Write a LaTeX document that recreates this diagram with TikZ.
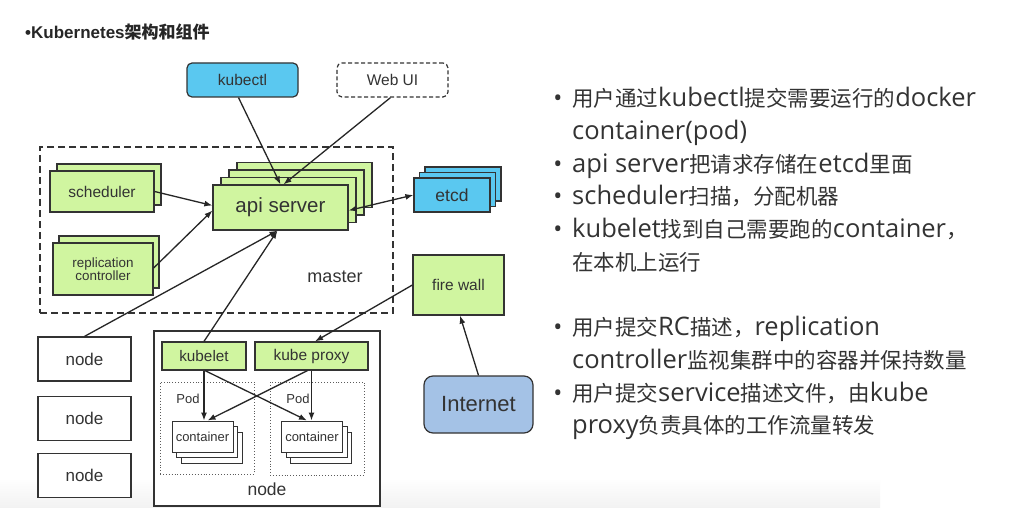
\documentclass[tikz,border=0pt]{standalone}
\usepackage{fontspec}
\setmainfont{Liberation Sans}
\newfontfamily\cjk{Noto Sans CJK SC}
\newfontfamily\notefont{Open Sans}
\usepackage{tikz}
\usetikzlibrary{arrows.meta}
\definecolor{boxgreen}{HTML}{D0F5A0}
\definecolor{boxblue}{HTML}{5AC8F0}
\definecolor{netblue}{HTML}{A4C2E6}
\definecolor{inkgray}{HTML}{333333}
\newcommand{\pxsize}[1]{\fontsize{#1}{#1}\selectfont}
\newcommand{\zh}[1]{{\cjk\pxsize{21.5}#1}}
\tikzset{box/.style={draw=inkgray,line width=1.2pt,inner sep=0pt,text=inkgray,align=center},
	greenbox/.style={box,fill=boxgreen},
	bluebox/.style={box,fill=boxblue},
	whitebox/.style={box,fill=white},
	podbox/.style={draw=inkgray!80,dotted,line width=0.9pt,inner sep=0pt},
	conbox/.style={box,fill=white,line width=1pt,minimum width=61pt,minimum height=31pt},
	label/.style={inner sep=0pt,text=inkgray},
	note/.style={inner sep=0pt,anchor=base west,text=inkgray,font=\notefont\pxsize{25.5}},
	dot/.style={inner sep=0pt,anchor=base,text=inkgray,font=\notefont\pxsize{24}}}

\begin{document}
\begin{tikzpicture}[x=1pt,y=-1pt]
	\useasboundingbox[fill=white] (0,0) rectangle (1020,516);
	\shade[top color=white,bottom color=black!5] (0,478) rectangle (880,507);
	\node[label,anchor=base west,text=black!85] (title) at (25,39)
		{\pxsize{17}\bfseries •Kubernetes{\cjk 架构和组件}};
	% master
	\node[draw=inkgray,line width=1.2pt,dash pattern=on 7pt off 4pt,
		minimum width=353pt,minimum height=166pt] (master) at (216.5,230) {};
	\node[label,font=\pxsize{18}] (masterlabel) at (335,277) {master};
	\begin{scope}[every node/.style={greenbox}]
		\node[minimum width=104pt,minimum height=41pt] (sched1) at (109,184.5) {};
		\node[minimum width=104pt,minimum height=41pt,font=\pxsize{15.5}] (sched) at (102,191.5) {scheduler};
		\node[minimum width=100pt,minimum height=52pt] (repl1) at (109,262) {};
		\node[minimum width=100pt,minimum height=52pt,font=\pxsize{13.4}] (repl) at (103,269)
			{replication\\controller};
		\node[minimum width=135pt,minimum height=45pt] (api3) at (304.5,185) {};
		\node[minimum width=135pt,minimum height=45pt] (api2) at (296.5,192.5) {};
		\node[minimum width=135pt,minimum height=45pt] (api1) at (288.5,200) {};
		\node[minimum width=135pt,minimum height=45pt,font=\pxsize{20.5}] (api) at (280.5,207.5) {api server};
		\node[minimum width=91pt,minimum height=60pt,font=\pxsize{15.5}] (firewall) at (458.5,285) {fire wall};
		\node[minimum width=84pt,minimum height=28pt,font=\pxsize{15.3}] (kubelet) at (204,356) {kubelet};
		\node[minimum width=113pt,minimum height=28pt,font=\pxsize{15.5}] (kubeproxy) at (311.5,356) {kube proxy};
	\end{scope}
	\begin{scope}[every node/.style={bluebox,minimum width=76pt,minimum height=34pt}]
		\node (etcd2) at (463,184) {};
		\node (etcd1) at (457.5,189.5) {};
		\node[font=\pxsize{17.5}] (etcd) at (452,195) {etcd};
		\node[rounded corners=5pt,minimum width=111pt,font=\pxsize{15.5}] (kubectl) at (242.5,80) {kubectl};
	\end{scope}
	\node[whitebox,rounded corners=5pt,dash pattern=on 4pt off 2.5pt,
		minimum width=111pt,minimum height=34pt,font=\pxsize{15.5}] (webui) at (392.5,80) {Web UI};
	\node[box,fill=netblue,rounded corners=9pt,minimum width=109pt,minimum height=57pt,
		font=\pxsize{22}] (internet) at (478.5,404.5) {Internet};
	% nodes
	\begin{scope}[every node/.style={whitebox,minimum width=93pt,minimum height=44pt,font=\pxsize{17}}]
		\node (node1) at (84.5,359) {node};
		\node (node2) at (84.5,418.5) {node};
		\node (node3) at (84.5,475.5) {node};
	\end{scope}
	\node[whitebox,minimum width=226pt,minimum height=175pt] (worker) at (267,418.5) {};
	\node[label,font=\pxsize{17.5}] (workerlabel) at (267,489) {node};
	\node[greenbox,minimum width=84pt,minimum height=28pt,font=\pxsize{15.3}] at (kubelet) {kubelet};
	\node[greenbox,minimum width=113pt,minimum height=28pt,font=\pxsize{15.5}] at (kubeproxy) {kube proxy};
	\node[podbox,minimum width=94pt,minimum height=92pt] (pod1) at (207,428) {};
	\node[podbox,minimum width=94pt,minimum height=93pt] (pod2) at (317,428.5) {};
	\node[label,font=\pxsize{13}] (podlabel1) at (188,399) {Pod};
	\node[label,font=\pxsize{13}] (podlabel2) at (298,399) {Pod};
	\begin{scope}[every node/.style={conbox,font=\pxsize{13}}]
		\node (cont1b) at (211.5,447.5) {};
		\node (cont1a) at (207,442) {};
		\node (cont1) at (202.5,436.5) {container};
		\node (cont2b) at (321,447.5) {};
		\node (cont2a) at (316.5,442) {};
		\node (cont2) at (312,436.5) {container};
	\end{scope}
	% connectors
	\begin{scope}[>={Latex[length=8pt,width=6pt]},
		every edge/.style={draw=black!85,line width=1.3pt}]
		\path [->] ([xshift=-4pt]kubectl.south) edge (api.north);
		\path [->] ([xshift=-2pt]webui.south) edge ([xshift=3pt]api.north);
		\path [->] (sched.east) edge ([yshift=2pt]api.west);
		\path [->] ([yshift=1pt]repl.east) edge ([yshift=-3pt]api.west);
		\path [->] (node1.north) edge ([xshift=-3pt]api.south);
		\path [->] (kubelet.north) edge ([xshift=-3pt]api.south);
		\path [<->] ([yshift=-3pt]api.east) edge (etcd.west);
		\path [->] (firewall.west) edge ([xshift=3.5pt]kubeproxy.north);
		\path [->] (internet.north) edge ([xshift=1.5pt]firewall.south);
		\path [->] (kubelet.south) edge (kubelet.south |- cont1.north);
		\path [->] ([xshift=1pt]kubelet.south) edge ([xshift=-5pt]cont2.north);
		\path [->] (kubeproxy.south) edge (kubeproxy.south |- cont2.north);
		\path [->] ([xshift=-4pt]kubeproxy.south) edge ([xshift=5pt]cont1.north);
	\end{scope}
	% notes
	\node[dot] (b1) at (558,107) {•};
	\node[note] (l1) at (572,107) {\zh{用户通过}kubectl\zh{提交需要运行的}docker};
	\node[note] (l2) at (572,139.6) {container(pod)};
	\node[dot] (b3) at (558,172.2) {•};
	\node[note] (l3) at (572,172.2) {api server\zh{把请求存储在}etcd\zh{里面}};
	\node[dot] (b4) at (558,204.8) {•};
	\node[note] (l4) at (572,204.8) {scheduler\zh{扫描，分配机器}};
	\node[dot] (b5) at (558,237.4) {•};
	\node[note] (l5) at (572,237.4) {kubelet\zh{找到自己需要跑的}container\zh{，}};
	\node[note] (l6) at (572,270) {\zh{在本机上运行}};
	\node[dot] (b7) at (558,335) {•};
	\node[note] (l7) at (572,335) {\zh{用户提交}RC\zh{描述，}replication};
	\node[note] (l8) at (572,368) {controller\zh{监视集群中的容器并保持数量}};
	\node[dot] (b9) at (558,401) {•};
	\node[note] (l9) at (572,401) {\zh{用户提交}service\zh{描述文件，由}kube};
	\node[note] (l10) at (572,433.6) {proxy\zh{负责具体的工作流量转发}};
\end{tikzpicture}
\end{document}
